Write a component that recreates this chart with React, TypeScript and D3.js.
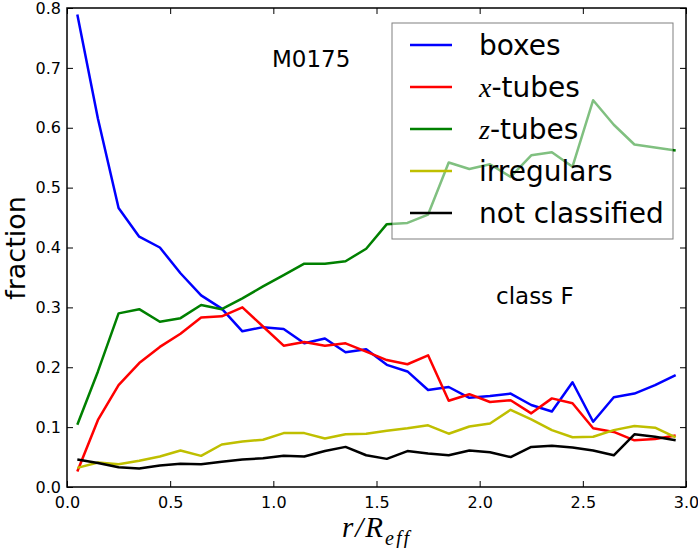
import React, { useEffect, useRef } from 'react';
import * as d3 from 'd3';

// radial bins (r / R_eff)
const radii = [
  0.05, 0.15, 0.25, 0.35, 0.45, 0.55, 0.65, 0.75, 0.85, 0.95,
  1.05, 1.15, 1.25, 1.35, 1.45, 1.55, 1.65, 1.75, 1.85, 1.95,
  2.05, 2.15, 2.25, 2.35, 2.45, 2.55, 2.65, 2.75, 2.85, 2.95,
];

const boxes = [
  0.789, 0.615, 0.466, 0.418, 0.4, 0.357, 0.32, 0.298, 0.26, 0.267,
  0.264, 0.24, 0.248, 0.225, 0.23, 0.204, 0.193, 0.162, 0.167, 0.149,
  0.152, 0.156, 0.137, 0.126, 0.175, 0.109, 0.15, 0.156, 0.17, 0.187,
];
const xTubes = [
  0.026, 0.112, 0.17, 0.207, 0.234, 0.256, 0.283, 0.285, 0.3, 0.268,
  0.236, 0.242, 0.236, 0.24, 0.226, 0.212, 0.205, 0.22, 0.144, 0.155,
  0.142, 0.145, 0.123, 0.148, 0.14, 0.098, 0.092, 0.078, 0.08, 0.086,
];
const zTubes = [
  0.104, 0.193, 0.29, 0.297, 0.276, 0.282, 0.304, 0.297, 0.315, 0.335,
  0.354, 0.373, 0.373, 0.377, 0.398, 0.439, 0.441, 0.455, 0.542, 0.531,
  0.539, 0.518, 0.554, 0.559, 0.535, 0.646, 0.605, 0.572, 0.567, 0.562,
];
const irregulars = [
  0.032, 0.041, 0.038, 0.044, 0.051, 0.061, 0.052, 0.071, 0.076, 0.079,
  0.09, 0.09, 0.081, 0.088, 0.089, 0.094, 0.098, 0.103, 0.089, 0.101,
  0.106, 0.129, 0.113, 0.095, 0.083, 0.084, 0.095, 0.102, 0.099, 0.083,
];
const notClassified = [
  0.046, 0.04, 0.033, 0.031, 0.036, 0.039, 0.038, 0.042, 0.046, 0.048,
  0.052, 0.051, 0.06, 0.067, 0.053, 0.047, 0.06, 0.056, 0.053, 0.061,
  0.058, 0.05, 0.067, 0.069, 0.066, 0.061, 0.053, 0.088, 0.084, 0.078,
];

const seriesNames = ['boxes', 'x-tubes', 'z-tubes', 'irregulars', 'not classified'];
const seriesValues = [boxes, xTubes, zTubes, irregulars, notClassified];
const seriesColors = ['#0000ff', '#ff0000', '#008000', '#bfbf00', '#000000'];

const xTicks = [0, 0.5, 1.0, 1.5, 2.0, 2.5, 3.0];
const yTicks = [0, 0.1, 0.2, 0.3, 0.4, 0.5, 0.6, 0.7, 0.8];

const width = 698;
const height = 548;

const FractionChart: React.FC = () => {
  const ref = useRef<SVGSVGElement>(null);

  useEffect(() => {
    const marginLeft = 67;
    const marginRight = 12;
    const marginTop = 8;
    const marginBottom = 61;
    const font = '"DejaVu Sans", sans-serif';

    const x = d3.scaleLinear().domain([0, 3]).range([marginLeft, width - marginRight]);
    const y = d3.scaleLinear().domain([0, 0.8]).range([height - marginBottom, marginTop]);

    const svg = d3.select(ref.current);

    // Lines
    const line = d3
      .line<number>()
      .x((_d, i) => x(radii[i]))
      .y((d) => y(d));

    seriesValues.forEach((values, i) => {
      svg
        .append('path')
        .datum(values)
        .attr('fill', 'none')
        .attr('stroke', seriesColors[i])
        .attr('stroke-width', 2.5)
        .attr('stroke-linejoin', 'round')
        .attr('d', line);
    });

    // Axes (inward ticks on all four sides)
    const styleAxis = (g: d3.Selection<SVGGElement, unknown, null, undefined>) => {
      g.select('.domain').remove();
      g.selectAll('.tick line').attr('stroke', '#000').attr('stroke-width', 1);
      g.selectAll('.tick text')
        .attr('font-family', font)
        .attr('font-size', 16)
        .attr('fill', '#000');
    };

    svg
      .append('g')
      .attr('transform', `translate(0,${height - marginBottom})`)
      .call(
        d3.axisBottom(x).tickValues(xTicks).tickSizeInner(-6).tickSizeOuter(0).tickPadding(10)
          .tickFormat(d3.format('.1f'))
      )
      .call(styleAxis);

    svg
      .append('g')
      .attr('transform', `translate(0,${marginTop})`)
      .call(d3.axisTop(x).tickValues(xTicks).tickSizeInner(-6).tickSizeOuter(0).tickFormat(() => ''))
      .call(styleAxis);

    svg
      .append('g')
      .attr('transform', `translate(${marginLeft},0)`)
      .call(
        d3.axisLeft(y).tickValues(yTicks).tickSizeInner(-6).tickSizeOuter(0).tickPadding(6)
          .tickFormat(d3.format('.1f'))
      )
      .call(styleAxis);

    svg
      .append('g')
      .attr('transform', `translate(${width - marginRight},0)`)
      .call(d3.axisRight(y).tickValues(yTicks).tickSizeInner(-6).tickSizeOuter(0).tickFormat(() => ''))
      .call(styleAxis);

    // Frame
    svg
      .append('rect')
      .attr('x', marginLeft)
      .attr('y', marginTop)
      .attr('width', width - marginLeft - marginRight)
      .attr('height', height - marginTop - marginBottom)
      .attr('fill', 'none')
      .attr('stroke', '#000')
      .attr('stroke-width', 1.5);

    // Axis labels
    svg
      .append('text')
      .attr('transform', `translate(25,248) rotate(-90)`)
      .attr('text-anchor', 'middle')
      .attr('font-family', font)
      .attr('font-size', 27)
      .text('fraction');

    const xLabel = svg
      .append('text')
      .attr('x', (marginLeft + width - marginRight) / 2)
      .attr('y', 537)
      .attr('text-anchor', 'middle')
      .attr('font-family', '"Liberation Serif", serif')
      .attr('font-style', 'italic')
      .attr('font-size', 29)
      .attr('letter-spacing', 2);
    xLabel.append('tspan').text('r/R');
    xLabel.append('tspan').attr('font-size', 20).attr('dy', 8).text('eff');

    // Annotations
    svg
      .append('text')
      .attr('x', 272)
      .attr('y', 67)
      .attr('font-family', font)
      .attr('font-size', 23)
      .text('M0175');

    svg
      .append('text')
      .attr('x', 496)
      .attr('y', 304)
      .attr('font-family', font)
      .attr('font-size', 23)
      .text('class F');

    // Legend (semi-transparent frame)
    const legend = svg.append('g');
    legend
      .append('rect')
      .attr('x', 392)
      .attr('y', 23)
      .attr('width', 281)
      .attr('height', 216)
      .attr('fill', '#fff')
      .attr('fill-opacity', 0.5)
      .attr('stroke', '#000')
      .attr('stroke-opacity', 0.5)
      .attr('stroke-width', 1);

    seriesNames.forEach((name, i) => {
      const rowY = 45 + i * 42;
      legend
        .append('line')
        .attr('x1', 410)
        .attr('x2', 452)
        .attr('y1', rowY)
        .attr('y2', rowY)
        .attr('stroke', seriesColors[i])
        .attr('stroke-width', 2.5);
      const label = legend
        .append('text')
        .attr('x', 479)
        .attr('y', rowY + 10)
        .attr('font-family', font)
        .attr('font-size', 28);
      if (name === 'x-tubes' || name === 'z-tubes') {
        label
          .append('tspan')
          .attr('font-family', '"Liberation Serif", serif')
          .attr('font-style', 'italic')
          .text(name[0]);
        label.append('tspan').text(name.slice(1));
      } else {
        label.text(name);
      }
    });

    return () => {
      svg.selectAll('*').remove();
    };
  }, []);

  return (
    <svg
      ref={ref}
      width={width}
      height={height}
      style={{ position: 'absolute', left: 0, top: 0, background: '#fff' }}
    ></svg>
  );
};

export default function App() {
  return <FractionChart />;
}
